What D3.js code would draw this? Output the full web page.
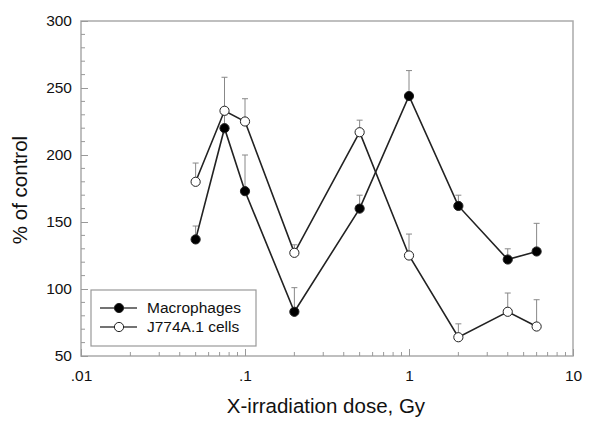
<!DOCTYPE html>
<html>
<head>
<meta charset="utf-8">
<script src="https://cdn.jsdelivr.net/npm/d3@7"></script>
<style>
  body { margin: 0; background: #fff; }
  text { font-family: Arial, "Liberation Sans", sans-serif; fill: #111; }
</style>
</head>
<body>
<div id="chart"></div>
<script>
const doses = [0.05, 0.075, 0.1, 0.2, 0.5, 1, 2, 4, 6];
const macrophages = [137, 220, 173, 83, 160, 244, 162, 122, 128];
const macrophagesErr = [147, 230, 200, 101, 170, 263, 170, 130, 149];
const j774 = [180, 233, 225, 127, 217, 125, 64, 83, 72];
const j774Err = [194, 258, 242, 133, 226, 141, 74, 97, 92];
const xTicks = [0.01, 0.1, 1, 10];
const xTickLabels = ['.01', '.1', '1', '10'];
const yTicks = [50, 100, 150, 200, 250, 300];

function drawChart(container){
    const width = 600, height = 433;
    const left = 81, right = 573, top = 21, bottom = 356;

    const xScale = d3.scaleLog().domain([0.01, 10]).range([left, right]);
    const yScale = d3.scaleLinear().domain([50, 300]).range([bottom, top]);

    const svg = d3.select(container).append('svg')
                  .attr('width', width)
                  .attr('height', height);

    // frame
    svg.append('rect')
       .attr('x', left).attr('y', top)
       .attr('width', right - left).attr('height', bottom - top)
       .attr('fill', 'none').attr('stroke', '#aaa').attr('stroke-width', 1.5);

    // minor ticks inside
    const xMinor = [];
    for (let d = 0.01; d < 10; d *= 10) for (let k = 2; k <= 9; k++) xMinor.push(d * k);
    svg.append('g').selectAll('line').data(xMinor).join('line')
       .attr('x1', d => xScale(d)).attr('x2', d => xScale(d))
       .attr('y1', bottom).attr('y2', bottom - 4)
       .attr('stroke', '#999');
    const yMinor = d3.range(60, 300, 10).filter(v => v % 50 !== 0);
    svg.append('g').selectAll('line').data(yMinor).join('line')
       .attr('x1', left).attr('x2', left + 4)
       .attr('y1', d => yScale(d)).attr('y2', d => yScale(d))
       .attr('stroke', '#999');

    const xAxis = d3.axisBottom(xScale).tickValues(xTicks)
                    .tickFormat((d, i) => xTickLabels[i]).tickSizeInner(-7).tickSizeOuter(0).tickPadding(14);
    const gx = svg.append('g').attr('transform', `translate(0,${bottom})`).call(xAxis);
    gx.select('.domain').remove();
    gx.selectAll('line').attr('stroke', '#999');
    gx.selectAll('text').attr('font-size', 15.5);

    const yAxis = d3.axisLeft(yScale).tickValues(yTicks).tickSizeInner(-7).tickSizeOuter(0).tickPadding(9);
    const gy = svg.append('g').attr('transform', `translate(${left},0)`).call(yAxis);
    gy.select('.domain').remove();
    gy.selectAll('line').attr('stroke', '#999');
    gy.selectAll('text').attr('font-size', 15.5);

    // axis titles
    svg.append('text')
       .attr('x', 326).attr('y', 413)
       .attr('text-anchor', 'middle').attr('font-size', 20.5)
       .text('X-irradiation dose, Gy');
    svg.append('text')
       .attr('transform', 'translate(27,190) rotate(-90)')
       .attr('text-anchor', 'middle').attr('font-size', 20.5)
       .text('% of control');

    const series = [
        {name: 'Macrophages', vals: macrophages, err: macrophagesErr, fill: '#000'},
        {name: 'J774A.1 cells', vals: j774, err: j774Err, fill: '#fff'}
    ];

    const line = d3.line().x((d, i) => xScale(doses[i])).y(d => yScale(d));

    series.forEach(s => {
        const g = svg.append('g');
        // error bars
        g.selectAll('line.err').data(s.vals).join('line')
         .attr('x1', (d, i) => xScale(doses[i])).attr('x2', (d, i) => xScale(doses[i]))
         .attr('y1', d => yScale(d)).attr('y2', (d, i) => yScale(s.err[i]))
         .attr('stroke', '#888').attr('stroke-width', 1);
        g.selectAll('line.cap').data(s.err).join('line')
         .attr('x1', (d, i) => xScale(doses[i]) - 3).attr('x2', (d, i) => xScale(doses[i]) + 3)
         .attr('y1', d => yScale(d)).attr('y2', d => yScale(d))
         .attr('stroke', '#888').attr('stroke-width', 1);
        g.append('path').datum(s.vals)
         .attr('fill', 'none').attr('stroke', '#222').attr('stroke-width', 1.6)
         .attr('d', line);
    });
    series.forEach(s => {
        svg.append('g').selectAll('circle').data(s.vals).join('circle')
           .attr('cx', (d, i) => xScale(doses[i])).attr('cy', d => yScale(d))
           .attr('r', 4.6).attr('fill', s.fill).attr('stroke', '#222').attr('stroke-width', 1);
    });

    // legend
    const lg = svg.append('g');
    lg.append('rect').attr('x', 91).attr('y', 290).attr('width', 165).attr('height', 56)
      .attr('fill', '#fff').attr('stroke', '#999').attr('stroke-width', 1.2);
    series.forEach((s, i) => {
        const y = 308 + i * 19;
        lg.append('line').attr('x1', 100).attr('x2', 137).attr('y1', y).attr('y2', y)
          .attr('stroke', '#444').attr('stroke-width', 1.4);
        lg.append('circle').attr('cx', 119).attr('cy', y).attr('r', 4.6)
          .attr('fill', s.fill).attr('stroke', '#222');
        lg.append('text').attr('x', 147).attr('y', y + 5).attr('font-size', 15.5).text(s.name);
    });
}

drawChart('#chart');
</script>
</body>
</html>
